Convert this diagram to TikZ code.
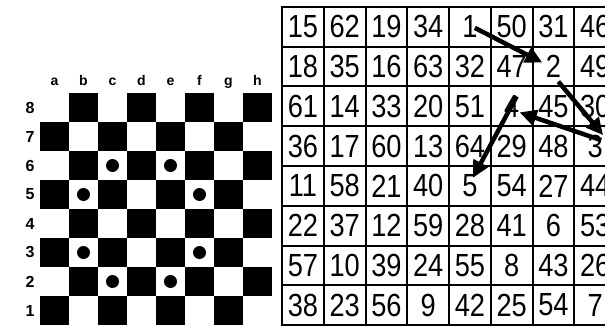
\documentclass[tikz,border=0pt]{standalone}
\usepackage{fontspec}
\setmainfont{Liberation Sans}
\newfontfamily\gridfont[FakeStretch=0.85]{Liberation Sans}
\usetikzlibrary{arrows.meta}
\begin{document}
\begin{tikzpicture}[x=1pt,y=-1pt,
 cell/.style={draw=black, line width=2pt, minimum width=41.75pt, minimum height=39.75pt,
   inner sep=0pt, outer sep=0pt, font=\gridfont\fontsize{32}{32}\selectfont},
 flab/.style={font=\bfseries\fontsize{14}{14}\selectfont, inner sep=0pt},
 rlab/.style={font=\bfseries\fontsize{16}{16}\selectfont, inner sep=0pt},
 arr/.style={line width=4.5pt, -{Triangle[length=17pt,width=16pt]}},
 dot/.style={circle, fill=black, minimum size=13pt, inner sep=0pt},
 sq/.style={fill=black},
]
\useasboundingbox (0,0) rectangle (605,326);
\clip (0,0) rectangle (605,326);
\fill[white] (0,0) rectangle (605,326);

% chessboard
\foreach \f in {1,...,8}{
  \foreach \r in {1,...,8}{
    \pgfmathtruncatemacro\p{mod(\f+\r,2)}
    \ifnum\p=0
      \fill[sq] (11+29*\f, 325-29*\r) rectangle ++(29,29);
    \fi
  }
}
\foreach \l [count=\i] in {a,b,c,d,e,f,g,h}
  \node[flab, anchor=base] (file-\l) at (25.5+29*\i, 86) {\l};
\foreach \r in {1,...,8}
  \node[rlab] (rank-\r) at (30, 339.5-29*\r) {\r};
\foreach \f/\r/\n in {3/6/c6,5/6/e6,2/5/b5,6/5/f5,2/3/b3,6/3/f3,3/2/c2,5/2/e2}
  \node[dot] (dot-\n) at (25.5+29*\f, 339.5-29*\r) {};

% numbered grid
\foreach \row [count=\i] in {
  {15,62,19,34,1,50,31,46},
  {18,35,16,63,32,47,2,49},
  {61,14,33,20,51,4,45,30},
  {36,17,60,13,64,29,48,3},
  {11,58,21,40,5,54,27,44},
  {22,37,12,59,28,41,6,53},
  {57,10,39,24,55,8,43,26},
  {38,23,56,9,42,25,54,7}}{
  \foreach \v [count=\j] in \row
    \node[cell] (n-\i-\j) at (261.125+41.75*\j, -12.875+39.75*\i) {\v};
}

% arrows
\draw[arr] ([shift={(5,1)}]n-1-5.center) -- ([shift={(-11,-4)}]n-2-7.center);
\draw[arr] ([shift={(5,15)}]n-2-7.center) -- ([shift={(8,-11)}]n-4-8.center);
\draw[arr] ([shift={(6,-6)}]n-4-8.center) -- ([shift={(8,6)}]n-3-6.center);
\draw[arr] ([shift={(5,-10)}]n-3-6.center) -- ([shift={(3,-8)}]n-5-5.center);
\end{tikzpicture}
\end{document}
